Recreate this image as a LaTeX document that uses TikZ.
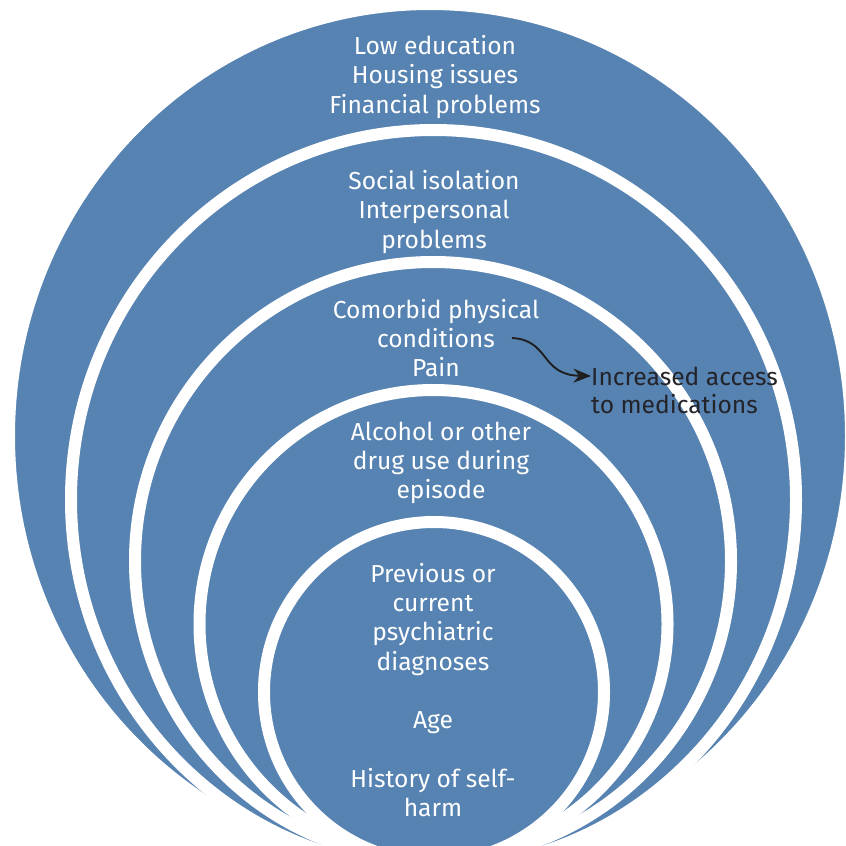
\documentclass[tikz,border=0pt]{standalone}
\usepackage{fontspec}
\setmainfont{Fira Sans}
\usetikzlibrary{arrows.meta}
\definecolor{ringblue}{RGB}{86,131,178}
\definecolor{darktext}{RGB}{35,35,42}
\tikzstyle{ring} = [fill=ringblue, draw=white, line width=0.36cm]
\tikzstyle{ringtext} = [text=white, align=center, font=\fontsize{21}{25}\selectfont]
\tikzstyle{sidetext} = [text=darktext, anchor=west, inner sep=0pt, font=\fontsize{21}{25}\selectfont]
\tikzstyle{arrow} = [line width=1.6pt, draw=black!88, -{Stealth[length=15pt,width=12pt]}]

\begin{document}
\begin{tikzpicture}[x=0.03cm, y=-0.03cm]
               \useasboundingbox (0,0) rectangle (845,846);
               % rings, outermost first
               \draw [ring] (430,436) ellipse [x radius=421, y radius=432];
               \draw [ring] (433.5,499.5) ellipse [x radius=362.5, y radius=369.5];
               \draw [ring] (433,561) ellipse [x radius=298, y radius=299];
               \draw [ring] (433.5,624) ellipse [x radius=234, y radius=234];
               \draw [ring] (434,692) ellipse [x radius=170, y radius=170];
               % ring labels
               \node [ringtext] at (435,77) (society) {Low education\\Housing issues\\Financial problems};
               \node [ringtext] at (434,212) (relations) {Social isolation\\Interpersonal\\problems};
               \node [ringtext] at (436,338) (health) {Comorbid physical\\conditions\\Pain};
               \node [ringtext] at (441,463) (episode) {Alcohol or other\\drug use during\\episode};
               \node [ringtext] at (433,690) (person) {Previous or\\current\\psychiatric\\diagnoses\\[25pt]Age\\[25pt]History of self-\\harm};
               \coordinate (condend) at (512,338);
               \node [sidetext] at (591,376) (access) {Increased access};
               \node [sidetext] at (591,404) (meds) {to medications};
               \draw [arrow] (condend) .. controls (550,340) and (540,375) .. (access.west);
\end{tikzpicture}
\end{document}
